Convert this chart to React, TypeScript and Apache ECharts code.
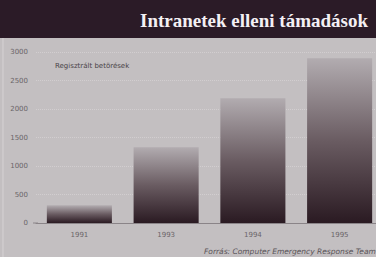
import React, { useEffect, useRef } from "react";
import * as echarts from "echarts";

const categories = ["1991", "1993", "1994", "1995"];
const attacks = [310, 1330, 2190, 2890];
const yTicks = { min: 0, max: 3000, interval: 500 };
const title = "Intranetek elleni támadások";
const subtitle = "Regisztrált betörések";
const source = "Forrás: Computer Emergency Response Team";

export default function App() {
  const ref = useRef<HTMLDivElement>(null);
  useEffect(() => {
    document.body.style.margin = "0";
    document.body.style.overflow = "hidden";
    const chart = echarts.init(ref.current!, null, { renderer: "svg" });
    chart.setOption({
      animation: false,
      backgroundColor: "#c3bfc1",
      grid: { left: 36, right: 1, top: 52, bottom: 34 },
      graphic: [
        { type: "rect", shape: { x: 0, y: 0, width: 384, height: 38 }, style: { fill: "#2b1b27" } },
        { type: "line", shape: { x1: 3, y1: 38, x2: 3, y2: 257 }, style: { stroke: "#d6d2d4", lineWidth: 1 } },
        {
          type: "text", x: 368, y: 20,
          style: {
            text: title, fill: "#f4f0f4", font: "bold 19px 'Liberation Serif', serif",
            align: "right", verticalAlign: "middle",
          },
        },
        {
          type: "text", x: 55, y: 66,
          style: { text: subtitle, fill: "#4a4448", font: "7px 'DejaVu Sans', sans-serif", verticalAlign: "middle" },
        },
        {
          type: "text", x: 204, y: 251,
          style: { text: source, fill: "#5a5458", font: "italic 7.5px 'DejaVu Sans', sans-serif", verticalAlign: "middle" },
        },
        { type: "line", shape: { x1: 33, y1: 223, x2: 38, y2: 223 }, style: { stroke: "#8a8488", lineWidth: 1 } },
      ],
      xAxis: {
        type: "category",
        data: categories,
        axisLine: { show: true, lineStyle: { color: "#8a8488", width: 1 } },
        axisTick: { show: false },
        axisLabel: { color: "#6a6468", fontSize: 7, margin: 8, fontFamily: "DejaVu Sans" },
      },
      yAxis: {
        type: "value",
        min: yTicks.min,
        max: yTicks.max,
        interval: yTicks.interval,
        axisLine: { show: false },
        axisTick: { show: false },
        axisLabel: { color: "#6a6468", fontSize: 7, margin: 8, fontFamily: "DejaVu Sans", formatter: (v: number) => String(v) },
        splitLine: { show: true, lineStyle: { color: "#d2ced0", type: "dotted", width: 1 } },
      },
      series: [
        {
          type: "bar",
          data: attacks,
          barCategoryGap: "25%",
          itemStyle: {
            color: new echarts.graphic.LinearGradient(0, 0, 0, 1, [
              { offset: 0, color: "#b2acb0" },
              { offset: 0.5, color: "#6a5c62" },
              { offset: 1, color: "#2a1a22" },
            ]),
          },
        },
      ],
    });
    return () => chart.dispose();
  }, []);
  return <div ref={ref} style={{ position: "fixed", left: 0, top: 0, width: 384, height: 257 }} />;
}
